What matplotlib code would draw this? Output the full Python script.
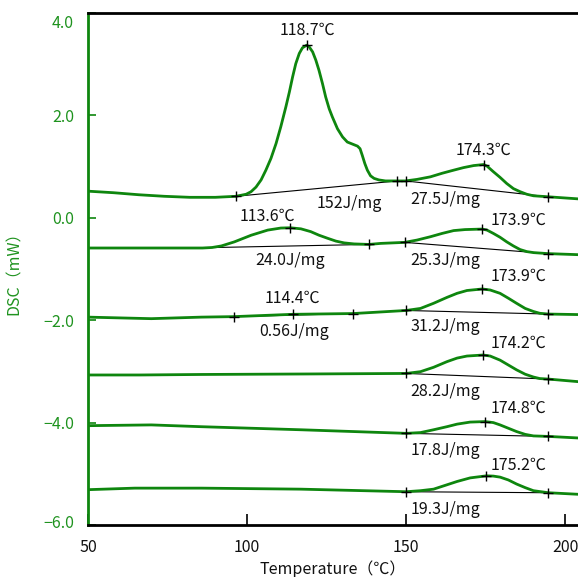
import matplotlib
matplotlib.use("Agg")
import matplotlib.pyplot as plt
import matplotlib.transforms as mtransforms

plt.rcParams['font.family'] = ['Noto Sans CJK JP', 'DejaVu Sans']

GREEN = '#0e860e'
TGREEN = '#1f931f'

# ---------------- data ----------------
# Curve 1 (top)
c1_x = [50, 58, 66, 74, 82, 90, 96.5, 99.7, 101.25, 102.8, 104.4, 105.9, 107.5, 109.1, 110.6,
        112.2, 113.3, 114.3, 115.3, 116.4, 117.4, 118.7, 119.5, 120.6, 121.6, 122.6, 123.7,
        124.7, 125.8, 126.8, 128.4, 130.0, 131.5, 133.1, 134.7, 135.5, 136.2, 137.0, 137.8,
        138.8, 139.9, 141.4, 143.5, 147.2, 149.8, 153.4, 157.6, 161.3, 164.9, 168.0, 171.2,
        174.3, 175.4, 177.4, 179.5, 181.6, 183.7, 185.8, 187.9, 190.0, 194.7, 204]
c1_y = [0.52, 0.49, 0.45, 0.42, 0.40, 0.40, 0.42, 0.46, 0.51, 0.60, 0.74, 0.93, 1.16, 1.45, 1.78,
        2.17, 2.46, 2.75, 3.01, 3.21, 3.32, 3.37, 3.34, 3.24, 3.08, 2.88, 2.62,
        2.36, 2.13, 1.97, 1.74, 1.58, 1.48, 1.44, 1.40, 1.35, 1.22, 1.06, 0.93,
        0.82, 0.77, 0.74, 0.72, 0.72, 0.72, 0.75, 0.80, 0.87, 0.93, 0.98, 1.02,
        1.04, 1.01, 0.90, 0.79, 0.67, 0.57, 0.51, 0.46, 0.43, 0.41, 0.37]
# Curve 2
c2_x = [50, 70, 86, 89, 91.9, 96.0, 101.3, 106.5, 110.6, 113.6, 116.9, 120.0, 122.6, 125.3,
        127.9, 130.5, 133.6, 138.3, 142.0, 149.5, 153.4, 157.6, 161.3, 164.9, 168.5, 173.9,
        175.4, 177.4, 179.5, 181.6, 183.7, 185.8, 187.9, 190.0, 194.7, 204]
c2_y = [-0.59, -0.59, -0.59, -0.58, -0.55, -0.47, -0.34, -0.24, -0.20, -0.195, -0.215, -0.27,
        -0.34, -0.40, -0.455, -0.49, -0.51, -0.52, -0.50, -0.48, -0.435, -0.37, -0.305, -0.25,
        -0.23, -0.22, -0.24, -0.305, -0.38, -0.47, -0.55, -0.62, -0.66, -0.68, -0.70, -0.72]
# Curve 3
c3_x = [50, 69.9, 85.6, 96.0, 114.4, 133.4, 150.0, 154.5, 158.6, 162.8, 166.0, 169.1, 173.9,
        176.4, 179.5, 182.1, 184.7, 187.4, 190.0, 192.0, 194.7, 204]
c3_y = [-1.94, -1.97, -1.94, -1.93, -1.885, -1.87, -1.81, -1.77, -1.67, -1.555, -1.475, -1.42,
        -1.39, -1.41, -1.475, -1.57, -1.67, -1.77, -1.83, -1.865, -1.88, -1.89]
# Curve 4
c4_x = [50, 66.3, 85.6, 120.0, 150.0, 154.5, 158.6, 162.8, 166.0, 169.1, 174.2, 176.4, 179.5,
        182.1, 184.7, 187.4, 190.0, 192.0, 194.7, 204]
c4_y = [-3.07, -3.07, -3.06, -3.05, -3.04, -3.005, -2.92, -2.81, -2.74, -2.70, -2.68, -2.70,
        -2.78, -2.875, -2.97, -3.055, -3.11, -3.14, -3.15, -3.20]
# Curve 5
c5_x = [50, 69.9, 85.6, 116.9, 150.0, 154.5, 158.6, 162.8, 166.0, 170.1, 174.8, 177.4, 179.5,
        182.1, 184.7, 187.4, 190.0, 194.7, 204]
c5_y = [-4.06, -4.045, -4.08, -4.14, -4.21, -4.195, -4.14, -4.08, -4.03, -3.99, -3.98, -4.00,
        -4.045, -4.11, -4.175, -4.23, -4.26, -4.27, -4.30]
# Curve 6
c6_x = [50, 64.7, 85.6, 116.9, 150.0, 154.5, 158.6, 162.8, 166.0, 170.1, 175.2, 177.4, 179.5,
        182.1, 184.7, 187.4, 190.0, 194.7, 204]
c6_y = [-5.31, -5.28, -5.28, -5.30, -5.35, -5.33, -5.30, -5.215, -5.15, -5.08, -5.04, -5.045,
        -5.065, -5.12, -5.20, -5.27, -5.33, -5.37, -5.40]

curves = [(c1_x, c1_y), (c2_x, c2_y), (c3_x, c3_y), (c4_x, c4_y), (c5_x, c5_y), (c6_x, c6_y)]

# integration baselines: (x0, y0, x1, y1)
baselines = [
    (96.5, 0.42, 147.2, 0.72), (149.8, 0.72, 194.7, 0.41),
    (90.0, -0.58, 138.3, -0.52), (149.5, -0.48, 194.7, -0.70),
    (96.0, -1.93, 133.4, -1.87), (150.0, -1.81, 194.7, -1.88),
    (150.0, -3.04, 194.7, -3.15),
    (150.0, -4.21, 194.7, -4.27),
    (150.0, -5.35, 194.7, -5.37),
]
# '+' markers (x, y)
mark_x = [96.5, 118.7, 147.2, 149.8, 174.3, 194.7,
          113.6, 138.3, 149.5, 173.9, 194.7,
          96.0, 114.4, 133.4, 150.0, 173.9, 194.7,
          150.0, 174.2, 194.7,
          150.0, 174.8, 194.7,
          150.0, 175.2, 194.7]
mark_y = [0.42, 3.37, 0.72, 0.72, 1.04, 0.41,
          -0.195, -0.52, -0.48, -0.22, -0.70,
          -1.93, -1.885, -1.87, -1.81, -1.39, -1.88,
          -3.04, -2.68, -3.15,
          -4.21, -3.98, -4.27,
          -5.35, -5.04, -5.37]

# annotations: text, x, y (centre)
ann_text = ['118.7℃', '174.3℃', '152J/mg', '27.5J/mg',
            '113.6℃', '173.9℃', '24.0J/mg', '25.3J/mg',
            '173.9℃', '114.4℃', '0.56J/mg', '31.2J/mg',
            '174.2℃', '28.2J/mg', '174.8℃', '17.8J/mg', '175.2℃', '19.3J/mg']
ann_x = [119.0, 174.3, 132.0, 162.3,
         106.5, 185.3, 113.6, 162.3,
         185.3, 114.3, 114.8, 162.3,
         185.3, 162.3, 185.3, 162.3, 185.3, 162.3]
ann_y = [3.66, 1.32, 0.27, 0.36,
         0.03, -0.045, -0.825, -0.825,
         -1.14, -1.57, -2.22, -2.13,
         -2.46, -3.40, -3.72, -4.55, -4.83, -5.69]

x_ticks = [50, 100, 150, 200]
y_ticks = [4.0, 2.0, 0.0, -2.0, -4.0, -6.0]
y_ticklabels = ['4.0', '2.0', '0.0', '−2.0', '−4.0', '−6.0']

# ---------------- figure ----------------
W, H = 578, 577
fig = plt.figure(figsize=(W / 100, H / 100), dpi=100)
ax = fig.add_axes([88 / W, 1 - 525 / H, (578 - 88) / W, (525 - 13) / H])
ax.set_xlim(50, 204)
ax.set_ylim(-6, 4)

for bx0, by0, bx1, by1 in baselines:
    ax.plot([bx0, bx1], [by0, by1], color='black', lw=0.8, zorder=2)
for cx, cy in curves:
    ax.plot(cx, cy, color=GREEN, lw=2.0, zorder=3, solid_joinstyle='round')
ax.plot(mark_x, mark_y, ls='none', marker='+', ms=7, mew=1.0, color='black', zorder=4)

for t, tx, ty in zip(ann_text, ann_x, ann_y):
    ax.text(tx, ty, t, ha='center', va='center', fontsize=11.5, color='#111111', zorder=5)

ax.spines['right'].set_visible(False)
ax.spines['top'].set_color('black')
ax.spines['top'].set_linewidth(2.0)
ax.spines['bottom'].set_color('black')
ax.spines['bottom'].set_linewidth(2.0)
ax.spines['left'].set_color(GREEN)
ax.spines['left'].set_linewidth(2.0)

ax.set_xticks(x_ticks)
ax.set_xticklabels([str(v) for v in x_ticks])
ax.set_yticks(y_ticks)
ax.set_yticklabels(y_ticklabels)
ax.tick_params(axis='x', direction='in', length=8, width=1.2, color='black',
               labelsize=11.5, labelcolor='#111111', pad=10, top=False)
ax.tick_params(axis='y', direction='in', length=6, width=1.2, color=GREEN,
               labelsize=11.5, labelcolor=TGREEN, pad=10, right=False)

# shift the first and last y tick labels inward, as in the reference
labs = ax.get_yticklabels()
labs[0].set_transform(labs[0].get_transform() + mtransforms.ScaledTranslation(0, -8 / 100, fig.dpi_scale_trans))
labs[-1].set_transform(labs[-1].get_transform() + mtransforms.ScaledTranslation(0, 3 / 100, fig.dpi_scale_trans))

ax.set_xlabel('Temperature（℃）', fontsize=11.5, color='#111111', labelpad=3)
ax.set_ylabel('DSC（mW）', fontsize=11.5, color=TGREEN, labelpad=15)

fig.savefig('out.png', dpi=100)
